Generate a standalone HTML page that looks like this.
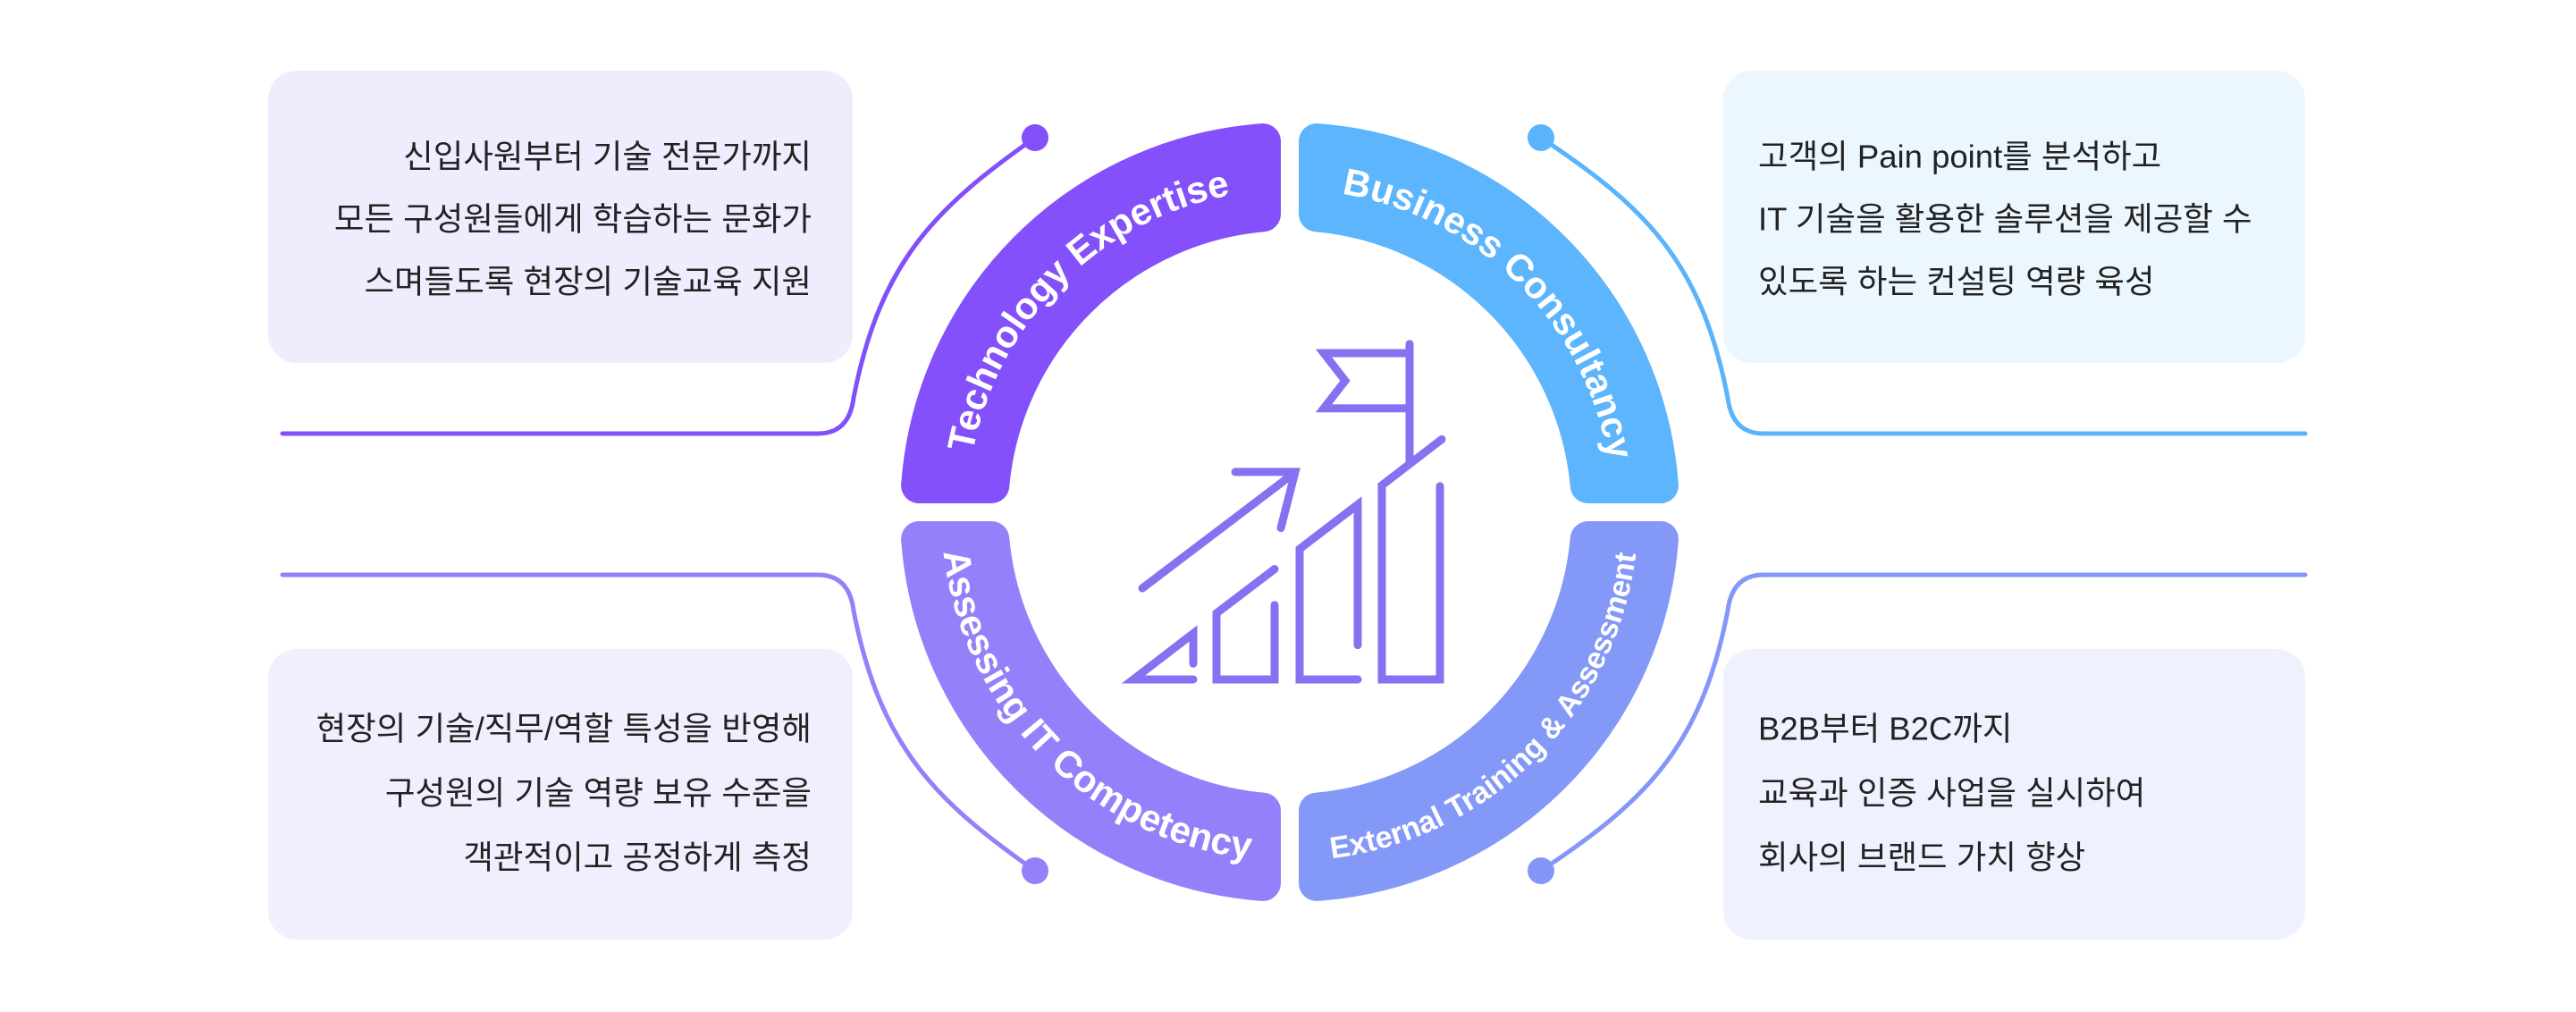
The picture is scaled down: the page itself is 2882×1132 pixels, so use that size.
<!DOCTYPE html>
<html><head><meta charset="utf-8"><style>
html,body{margin:0;padding:0;background:#fff;}
svg{display:block;}
.k{font-family:"Liberation Sans","Noto Sans CJK KR",sans-serif;font-size:36.5px;fill:#222;}
.r{font-family:"Liberation Sans",sans-serif;font-weight:bold;fill:#fff;}
</style></head><body>
<svg width="2882" height="1132" viewBox="0 0 2882 1132" xmlns="http://www.w3.org/2000/svg">
<defs>
<path id="pTL" d="M1082 573 A361 361 0 0 1 1443 212"/>
<path id="pTR" d="M1443 212 A361 361 0 0 1 1804 573"/>
<path id="pBL" d="M1053 573 A390 390 0 0 0 1443 963"/>
<path id="pBR" d="M1443 963 A390 390 0 0 0 1833 573"/>
</defs>
<rect x="300" y="79" width="654" height="327" rx="32" fill="#f0ecfe"/>
<rect x="1928" y="79" width="651" height="327" rx="32" fill="#ecf6fe"/>
<rect x="300" y="726" width="654" height="325" rx="32" fill="#f1effe"/>
<rect x="1928" y="726" width="651" height="325" rx="32" fill="#eff2fe"/>
<g class="k" text-anchor="end" dominant-baseline="central">
<text x="908" y="175">신입사원부터 기술 전문가까지</text>
<text x="908" y="245">모든 구성원들에게 학습하는 문화가</text>
<text x="908" y="315">스며들도록 현장의 기술교육 지원</text>
<text x="908" y="815">현장의 기술/직무/역할 특성을 반영해</text>
<text x="908" y="887">구성원의 기술 역량 보유 수준을</text>
<text x="908" y="959">객관적이고 공정하게 측정</text>
</g>
<g class="k" dominant-baseline="central">
<text x="1967" y="175">고객의 Pain point를 분석하고</text>
<text x="1967" y="245">IT 기술을 활용한 솔루션을 제공할 수</text>
<text x="1967" y="315">있도록 하는 컨설팅 역량 육성</text>
<text x="1967" y="815">B2B부터 B2C까지</text>
<text x="1967" y="887">교육과 인증 사업을 실시하여</text>
<text x="1967" y="959">회사의 브랜드 가치 향상</text>
</g>
<g fill="none" stroke-width="5" stroke-linecap="round">
<path d="M316 485 H915 Q950 485 955 445 C985 290 1050 230 1158 154" stroke="#8250fa"/>
<path d="M316 643 H915 Q950 643 955 683 C985 838 1050 898 1158 974" stroke="#9580fa"/>
<path d="M2579 485 H1973 Q1938 485 1933 445 C1903 290 1838 230 1724 154" stroke="#5ab4fc"/>
<path d="M2579 643 H1973 Q1938 643 1933 683 C1903 838 1838 898 1724 974" stroke="#8497f8"/>
</g>
<circle cx="1158" cy="154" r="15" fill="#8250fa"/>
<circle cx="1158" cy="974" r="15" fill="#9580fa"/>
<circle cx="1724" cy="154" r="15" fill="#5ab4fc"/>
<circle cx="1724" cy="974" r="15" fill="#8497f8"/>
<g stroke-width="40" stroke-linejoin="round">
<path d="M1413 158.1 A416 416 0 0 0 1028.1 543 L1109.3 543 A335 335 0 0 1 1413 239.3 Z" fill="#8450fb" stroke="#8450fb"/>
<path d="M1473 158.1 A416 416 0 0 1 1857.9 543 L1776.7 543 A335 335 0 0 0 1473 239.3 Z" fill="#5cb5fd" stroke="#5cb5fd"/>
<path d="M1413 987.9 A416 416 0 0 1 1028.1 603 L1109.3 603 A335 335 0 0 0 1413 906.7 Z" fill="#9580fb" stroke="#9580fb"/>
<path d="M1473 987.9 A416 416 0 0 0 1857.9 603 L1776.7 603 A335 335 0 0 1 1473 906.7 Z" fill="#8498f8" stroke="#8498f8"/>
</g>
<text class="r" font-size="42" text-anchor="middle"><textPath href="#pTL" startOffset="50%">Technology Expertise</textPath></text>
<text class="r" font-size="42" text-anchor="middle"><textPath href="#pTR" startOffset="50%">Business Consultancy</textPath></text>
<text class="r" font-size="42" text-anchor="middle"><textPath href="#pBL" startOffset="50%">Assessing IT Competency</textPath></text>
<text class="r" font-size="34" text-anchor="middle"><textPath href="#pBR" startOffset="50%">External Training &amp; Assessment</textPath></text>
<g fill="none" stroke="#8672f0" stroke-width="9" stroke-linecap="round" stroke-linejoin="miter">
<path d="M1577 384.7 V518.5"/>
<path d="M1577 395 H1481 L1505 425.9 L1481 456.8 H1577"/>
<path d="M1613 491.4 L1546 542.9 V760 H1611 V543.8"/>
<path d="M1519 721.6 V564.4 L1454 614 V760 H1519"/>
<path d="M1426 636.5 L1361 686 V760 H1426 V676.7"/>
<path d="M1335 760 H1268 L1335 708.5 V742.2"/>
<path d="M1278 658 L1447 529.8"/>
<path d="M1382 527.9 H1449 L1433 590.6"/>
</g>
</svg>
</body></html>
